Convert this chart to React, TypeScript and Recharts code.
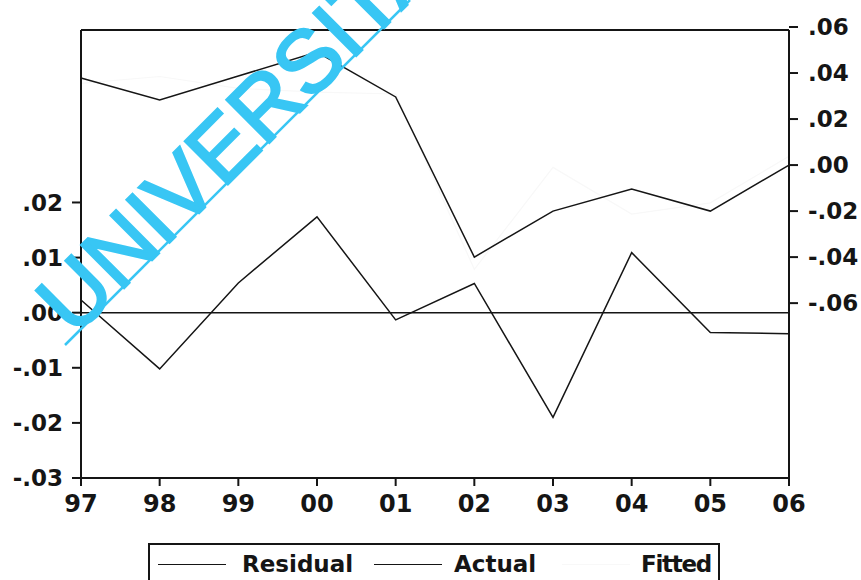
import React from 'react'
import { LineChart, Line, XAxis, YAxis, ReferenceLine } from 'recharts'

const years = ['97', '98', '99', '00', '01', '02', '03', '04', '05', '06']
const residual = [0.0023, -0.0102, 0.0054, 0.0174, -0.0013, 0.0053, -0.019, 0.0109, -0.0036, -0.0038]
const actual = [0.0378, 0.0283, 0.0387, 0.0491, 0.0296, -0.04, -0.02, -0.0104, -0.02, 0.0]
const fitted = [0.0355, 0.0385, 0.0333, 0.0317, 0.0309, -0.0453, -0.001, -0.0213, -0.0164, 0.0038]

const leftTicks = [-0.03, -0.02, -0.01, 0, 0.01, 0.02]
const rightTicks = [-0.06, -0.04, -0.02, 0, 0.02, 0.04, 0.06]

const data = years.map((year, i) => ({
  year,
  Residual: residual[i],
  Actual: actual[i],
  Fitted: fitted[i],
}))

const ink = '#151515'
const faint = '#f8f8f8'
const font = '"DejaVu Sans", sans-serif'
const cyan = '#38c6f4'

// ".02", "-.01", ".00" style labels
const fmt = (v: number) => {
  const s = Math.abs(v).toFixed(2).replace(/^0/, '')
  return v < -1e-9 ? '-' + s : s
}

const tickStyle = { fill: ink, fontSize: 23, fontFamily: font, fontWeight: 700 }

function LegendBox() {
  const item = (label: string, color: string, lineX: number, textX: number, spacing = 0) => (
    <>
      <div style={{ position: 'absolute', left: lineX, top: 19, width: 68, height: 0, borderTop: `1.5px solid ${color}` }} />
      <div
        style={{
          position: 'absolute',
          left: textX,
          top: 4,
          fontSize: 23,
          fontWeight: 700,
          fontFamily: font,
          color: ink,
          lineHeight: '30px',
          letterSpacing: spacing,
        }}
      >
        {label}
      </div>
    </>
  )
  return (
    <div style={{ position: 'absolute', left: 148, top: 543, width: 572, height: 50, border: `2px solid ${ink}`, boxSizing: 'border-box' }}>
      {item('Residual', ink, 8, 92)}
      {item('Actual', ink, 224, 304)}
      {item('Fitted', faint, 412, 491, -1.3)}
    </div>
  )
}

function Stamp() {
  return (
    <svg width={861} height={580} style={{ position: 'absolute', left: 0, top: 0, pointerEvents: 'none' }}>
      <text
        x={74}
        y={338}
        transform="rotate(-45 74 338)"
        fill={cyan}
        stroke={cyan}
        strokeWidth={2.5}
        fontSize={88}
        fontFamily='"Liberation Sans", Arial, sans-serif'
      >
        UNIVERSITAS
      </text>
      <line x1={65} y1={345} x2={410} y2={0} stroke={cyan} strokeWidth={2.5} />
    </svg>
  )
}

export default function App() {
  return (
    <div style={{ position: 'absolute', left: 0, top: 0, width: 861, height: 580, background: '#fff', overflow: 'hidden' }}>
      <LineChart width={861} height={580} data={data} margin={{ top: 29, right: 0, bottom: 0, left: 0 }}>
        <XAxis
          dataKey="year"
          height={102}
          interval={0}
          tick={{ ...tickStyle, fontSize: 24 }}
          tickSize={8}
          tickMargin={9}
          axisLine={{ stroke: ink, strokeWidth: 2 }}
          tickLine={{ stroke: ink, strokeWidth: 2 }}
        />
        <XAxis xAxisId="top" dataKey="year" orientation="top" height={1} tick={false} tickLine={false} axisLine={{ stroke: ink, strokeWidth: 2 }} />
        <YAxis
          yAxisId="left"
          width={81}
          domain={[-0.03, 0.0513]}
          ticks={leftTicks}
          interval={0}
          allowDataOverflow
          tickFormatter={fmt}
          tick={tickStyle}
          tickSize={9}
          tickMargin={9}
          axisLine={{ stroke: ink, strokeWidth: 2 }}
          tickLine={{ stroke: ink, strokeWidth: 2 }}
        />
        <YAxis
          yAxisId="right"
          orientation="right"
          width={72}
          domain={[-0.136, 0.0587]}
          ticks={rightTicks}
          interval={0}
          allowDataOverflow
          tickFormatter={fmt}
          tick={{ ...tickStyle, textAnchor: 'start' }}
          tickSize={9}
          tickMargin={10}
          axisLine={{ stroke: ink, strokeWidth: 2 }}
          tickLine={{ stroke: ink, strokeWidth: 2 }}
        />
        <ReferenceLine yAxisId="left" y={0} stroke={ink} strokeWidth={1.5} />
        <Line yAxisId="right" dataKey="Fitted" stroke={faint} strokeWidth={1.2} dot={false} isAnimationActive={false} />
        <Line yAxisId="right" dataKey="Actual" stroke={ink} strokeWidth={1.5} dot={false} isAnimationActive={false} />
        <Line yAxisId="left" dataKey="Residual" stroke={ink} strokeWidth={1.5} dot={false} isAnimationActive={false} />
      </LineChart>
      <LegendBox />
      <Stamp />
    </div>
  )
}
